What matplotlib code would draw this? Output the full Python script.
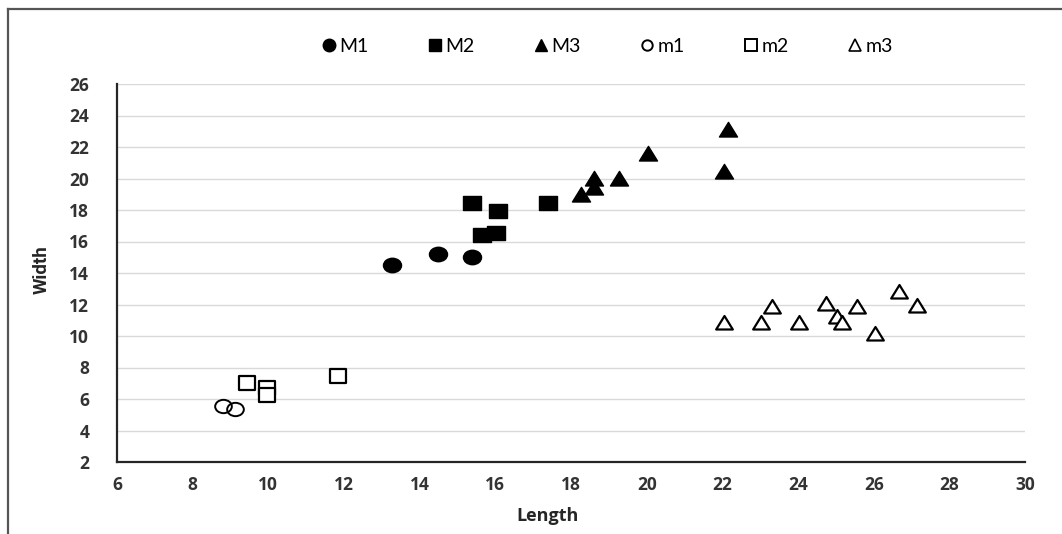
import matplotlib
matplotlib.use("Agg")
import matplotlib.pyplot as plt
from matplotlib.path import Path
from matplotlib.markers import MarkerStyle
from matplotlib.transforms import Affine2D
from matplotlib.lines import Line2D

# ---- data ----
M1_length = [13.26, 14.49, 15.38]
M1_width = [14.5, 15.19, 15.04]

M2_length = [15.38, 16.08, 15.66, 16.03, 17.38]
M2_width = [18.47, 17.94, 16.41, 16.52, 18.47]

M3_length = [18.26, 18.61, 18.61, 19.28, 20.03, 22.15, 22.04]
M3_width = [18.95, 19.38, 20.0, 19.97, 21.54, 23.08, 20.43]

m1_length = [8.81, 9.11]
m1_width = [5.56, 5.35]

m2_length = [9.43, 9.96, 9.96, 11.84]
m2_width = [7.04, 6.68, 6.25, 7.46]

m3_length = [22.04, 23.03, 23.32, 24.03, 24.74, 25.02, 25.15, 25.57, 26.03, 26.68, 27.15]
m3_width = [10.8, 10.8, 11.82, 10.8, 12.01, 11.23, 10.8, 11.82, 10.13, 12.81, 11.9]

series_labels = ["M1", "M2", "M3", "m1", "m2", "m3"]
x_ticks = [6, 8, 10, 12, 14, 16, 18, 20, 22, 24, 26, 28, 30]
y_ticks = [2, 4, 6, 8, 10, 12, 14, 16, 18, 20, 22, 24, 26]

# ---- slightly wide markers (reference image is horizontally stretched) ----
squash = Affine2D().scale(1.0, 0.8)
circ = MarkerStyle(Path.unit_circle().transformed(squash))
sq = MarkerStyle(Path([(-1, -1), (1, -1), (1, 1), (-1, 1), (-1, -1)],
                      [1, 2, 2, 2, 79]).transformed(squash))
tri = MarkerStyle(Path([(0, 1), (-1, -0.8), (1, -0.8), (0, 1)],
                       [1, 2, 2, 79]).transformed(Affine2D().scale(1.0, 0.9)))

fig = plt.figure(figsize=(10.62, 5.34), dpi=100)
ax = fig.add_axes([117 / 1062, 1 - 462 / 534, (1025 - 117) / 1062, (462 - 84) / 534])

ms_fill = 13
ms_open = 12
open_kw = dict(markerfacecolor="white", markeredgecolor="black", markeredgewidth=1.6,
               linestyle="none")
fill_kw = dict(color="black", linestyle="none")

ax.plot(M1_length, M1_width, marker=circ, markersize=ms_fill, **fill_kw, zorder=3)
ax.plot(M2_length, M2_width, marker=sq, markersize=ms_fill, **fill_kw, zorder=3)
ax.plot(M3_length, M3_width, marker=tri, markersize=ms_fill, **fill_kw, zorder=3)
ax.plot(m1_length, m1_width, marker=circ, markersize=ms_open,
        markerfacecolor="none", markeredgecolor="black", markeredgewidth=1.4,
        linestyle="none", zorder=3)
ax.plot(m2_length, m2_width, marker=sq, markersize=ms_open, **open_kw, zorder=3)
ax.plot(m3_length, m3_width, marker=tri, markersize=ms_open, **open_kw, zorder=3)

ax.set_xlim(6, 30)
ax.set_ylim(2, 26)
ax.set_xticks(x_ticks)
ax.set_yticks(y_ticks)
ax.grid(axis="y", color="#d9d9d9", linewidth=1.0)
ax.set_axisbelow(True)
for s in ["top", "right"]:
    ax.spines[s].set_visible(False)
for s in ["left", "bottom"]:
    ax.spines[s].set_color("#262626")
    ax.spines[s].set_linewidth(1.6)
ax.tick_params(length=0)
ax.tick_params(axis="y", pad=20)
ax.tick_params(axis="x", pad=10)
for lab in ax.get_xticklabels() + ax.get_yticklabels():
    lab.set_fontfamily("Open Sans")
    lab.set_fontweight("bold")
    lab.set_fontsize(12.5)
    lab.set_color("#333333")

fig.text(548 / 1062, 1 - 516 / 534, "Length", ha="center", va="center",
         fontfamily="Open Sans", fontweight="bold", fontsize=13, color="#262626")
fig.text(42 / 1062, 1 - 270 / 534, "Width", ha="center", va="center", rotation=90,
         fontfamily="Roboto", fontweight="bold", fontstretch="condensed",
         fontsize=13.5, color="#262626")

# ---- legend ----
handles = [
    Line2D([], [], marker="o", markersize=9, **fill_kw),
    Line2D([], [], marker="s", markersize=9, **fill_kw),
    Line2D([], [], marker="^", markersize=9, **fill_kw),
    Line2D([], [], marker="o", markersize=7.5, markerfacecolor="white",
           markeredgecolor="black", markeredgewidth=1.4, linestyle="none"),
    Line2D([], [], marker="s", markersize=8.5, markerfacecolor="white",
           markeredgecolor="black", markeredgewidth=1.4, linestyle="none"),
    Line2D([], [], marker="^", markersize=8.5, markerfacecolor="white",
           markeredgecolor="black", markeredgewidth=1.2, linestyle="none"),
]
fig.legend(handles, series_labels, ncol=6, loc="center",
           bbox_to_anchor=(607 / 1062, 1 - 46 / 534), frameon=False,
           prop={"family": "Lato", "size": 14}, handlelength=0.8,
           handletextpad=0.15, columnspacing=3.0)

# ---- outer frame (left and top edges) ----
fig.add_artist(Line2D([8 / 1062, 8 / 1062], [0, 1 - 9 / 534], transform=fig.transFigure,
                      color="#555555", linewidth=1.6))
fig.add_artist(Line2D([8 / 1062, 1], [1 - 9 / 534, 1 - 9 / 534], transform=fig.transFigure,
                      color="#555555", linewidth=1.6))

fig.savefig("out.png", dpi=100)
